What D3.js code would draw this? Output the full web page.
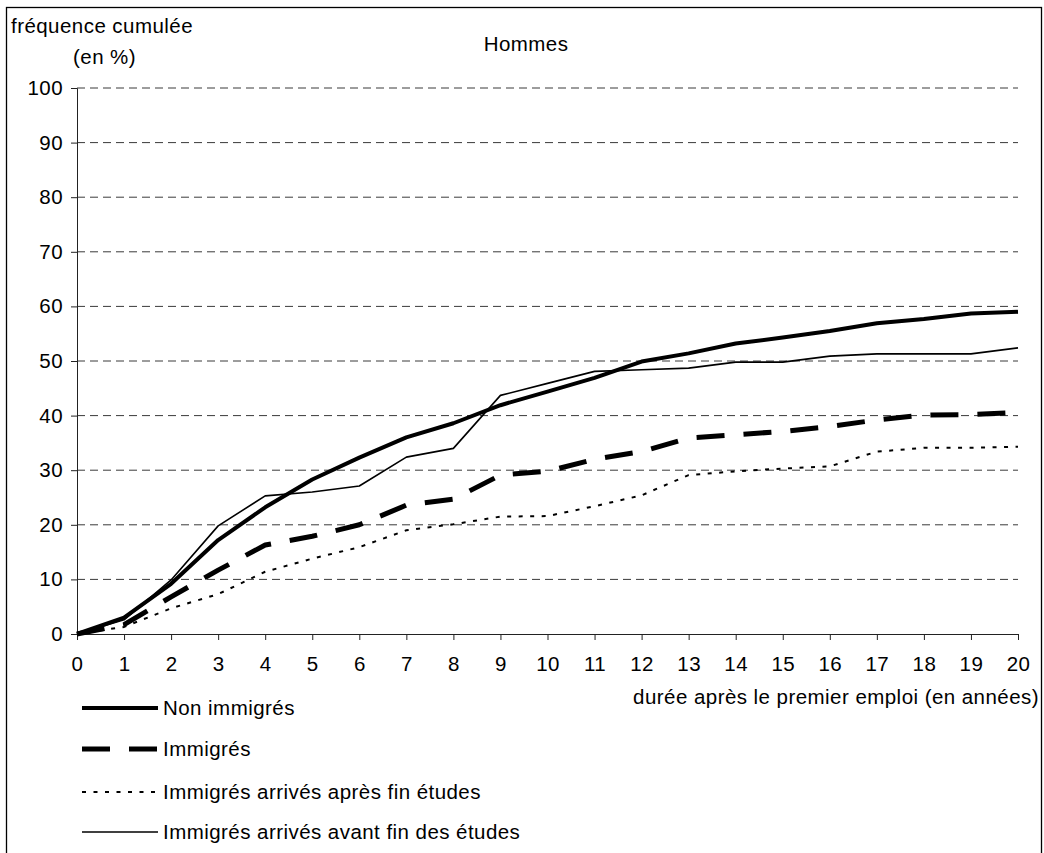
<!DOCTYPE html>
<html>
<head>
<meta charset="utf-8">
<script src="https://cdn.jsdelivr.net/npm/d3@7"></script>
<style>
  html, body { margin: 0; padding: 0; background: #fff; }
  svg text { font-family: "Liberation Sans", Arial, sans-serif; fill: #000; letter-spacing: 0.45px; }
</style>
</head>
<body>
<svg id="chart" width="1044" height="853"></svg>
<script>
// Years after first job (0..20)
const years = d3.range(0, 21);

// Cumulative frequency (%) for each group
const nonImmigres = [0, 3.0, 9.2, 17.2, 23.2, 28.3, 32.3, 36.0, 38.6, 41.9, 44.4, 46.9, 49.9, 51.4, 53.2, 54.3, 55.5, 56.9, 57.7, 58.7, 59.0];
const immigres = [0, 1.7, 6.8, 11.7, 16.3, 17.9, 20.0, 23.6, 24.7, 29.1, 29.8, 32.0, 33.4, 35.9, 36.5, 37.1, 38.0, 39.2, 40.1, 40.2, 40.6];
const immigresApres = [0, 1.3, 4.7, 7.3, 11.4, 13.8, 15.9, 19.0, 20.1, 21.5, 21.6, 23.4, 25.4, 29.1, 29.8, 30.3, 30.7, 33.4, 34.1, 34.1, 34.3];
const immigresAvant = [0, 2.6, 9.9, 19.8, 25.3, 26.0, 27.1, 32.4, 34.0, 43.7, 45.9, 48.1, 48.4, 48.7, 49.8, 49.8, 50.9, 51.3, 51.3, 51.3, 52.4];

const yTicks = [0, 10, 20, 30, 40, 50, 60, 70, 80, 90, 100];
const seriesNames = ["Non immigrés", "Immigrés", "Immigrés arrivés après fin études", "Immigrés arrivés avant fin des études"];

const series = [
  { name: seriesNames[0], values: nonImmigres, width: 4, dash: null },
  { name: seriesNames[1], values: immigres, width: 5, dash: "28,19" },
  { name: seriesNames[2], values: immigresApres, width: 2, dash: "4,7.5" },
  { name: seriesNames[3], values: immigresAvant, width: 1.6, dash: null }
];

const svg = d3.select("#chart");
const FONT = 20.5;
const FAMILY = "Liberation Sans, Arial, sans-serif";

// Outer frame
svg.append("rect")
  .attr("x", 6.5).attr("y", 7.5)
  .attr("width", 1035).attr("height", 870)
  .attr("fill", "#fff").attr("stroke", "#000").attr("stroke-width", 1.3);

const x = d3.scaleLinear().domain([0, 20]).range([77, 1018]);
const y = d3.scaleLinear().domain([0, 100]).range([634, 88]);

// Horizontal dashed gridlines
svg.append("g")
  .selectAll("line")
  .data(yTicks.filter(d => d > 0))
  .join("line")
  .attr("x1", x(0)).attr("x2", x(20))
  .attr("y1", d => y(d)).attr("y2", d => y(d))
  .attr("stroke", "#3a3a3a").attr("stroke-width", 1)
  .attr("stroke-dasharray", "8,5");

// Y axis
const yAxis = svg.append("g")
  .attr("transform", `translate(${x(0)},0)`)
  .call(d3.axisLeft(y).tickValues(yTicks).tickSize(6).tickPadding(8).tickFormat(d3.format("d")));
yAxis.select(".domain").attr("stroke", "#222");
yAxis.selectAll(".tick line").attr("stroke", "#222");
yAxis.selectAll("text").attr("font-size", FONT).attr("font-family", FAMILY).attr("fill", "#000");

// X axis
const xAxis = svg.append("g")
  .attr("transform", `translate(0,${y(0)})`)
  .call(d3.axisBottom(x).tickValues(years).tickSize(6).tickPadding(16).tickFormat(d3.format("d")));
xAxis.select(".domain").attr("stroke", "#222");
xAxis.selectAll(".tick line").attr("stroke", "#222");
xAxis.selectAll("text").attr("font-size", FONT).attr("font-family", FAMILY).attr("fill", "#000");

// Series lines
const line = d3.line().x((d, i) => x(years[i])).y(d => y(d));
svg.append("g")
  .selectAll("path")
  .data(series)
  .join("path")
  .attr("d", d => line(d.values))
  .attr("fill", "none")
  .attr("stroke", "#000")
  .attr("stroke-width", d => d.width)
  .attr("stroke-dasharray", d => d.dash)
  .attr("stroke-linejoin", "round");

// Titles
svg.append("text").attr("x", 11).attr("y", 33).attr("font-size", FONT).text("fréquence cumulée");
svg.append("text").attr("x", 73).attr("y", 64).attr("font-size", FONT).text("(en %)");
svg.append("text").attr("x", 526).attr("y", 51).attr("font-size", FONT).attr("text-anchor", "middle").text("Hommes");
svg.append("text").attr("x", 1039).attr("y", 704).attr("font-size", FONT).attr("text-anchor", "end")
  .text("durée après le premier emploi (en années)");

// Legend
const legendY = [708, 749, 792, 832];
const legend = svg.append("g")
  .selectAll("g")
  .data(series)
  .join("g")
  .attr("transform", (d, i) => `translate(0,${legendY[i]})`);
legend.append("line")
  .attr("x1", 82).attr("x2", 158).attr("y1", 0).attr("y2", 0)
  .attr("stroke", "#000")
  .attr("stroke-width", d => d.width)
  .attr("stroke-dasharray", d => d.dash);
legend.append("text")
  .attr("x", 163).attr("y", 7).attr("font-size", FONT)
  .text(d => d.name);
</script>
</body>
</html>
